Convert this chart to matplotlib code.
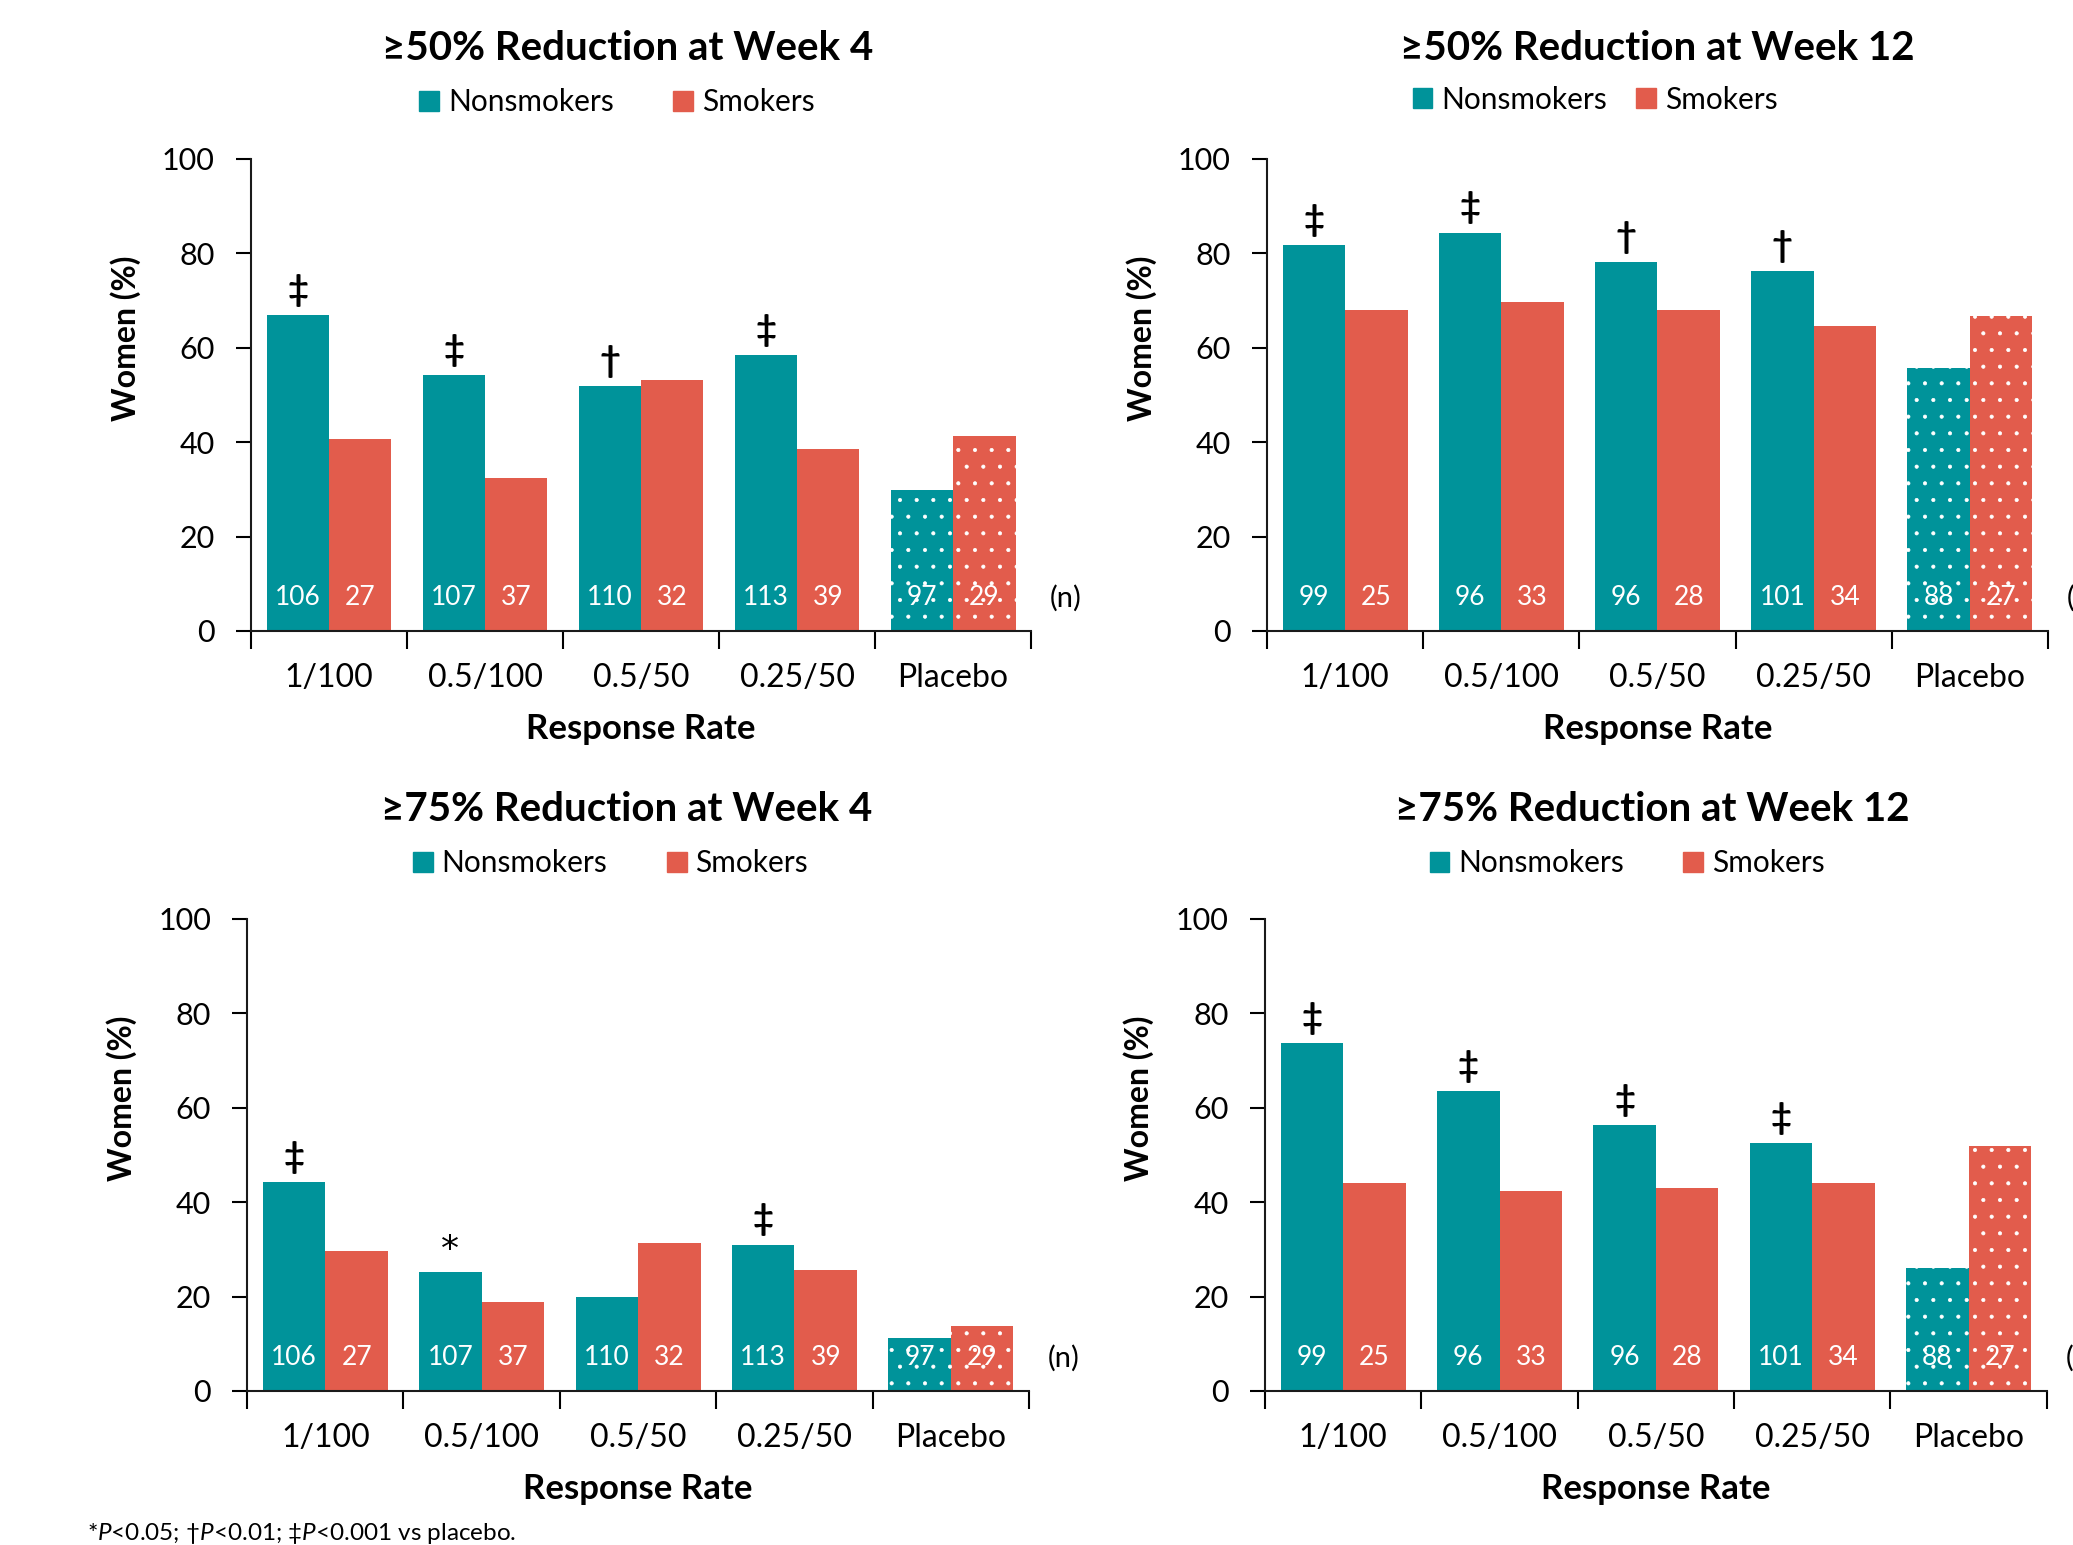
import matplotlib
matplotlib.use('Agg')
import matplotlib.pyplot as plt
from matplotlib.patches import Patch

plt.rcParams['font.family'] = ['Lato', 'DejaVu Sans']
plt.rcParams['mathtext.fontset'] = 'custom'
plt.rcParams['mathtext.rm'] = 'Lato'
plt.rcParams['mathtext.it'] = 'Lato:italic'
plt.rcParams['hatch.linewidth'] = 0.5

TEAL = '#00939a'
RED = '#e25c4c'

doses = ['1/100', '0.5/100', '0.5/50', '0.25/50', 'Placebo']

# percent of women responding, per panel
nonsmk_50_w4 = [67.0, 54.2, 51.8, 58.4, 29.9]
smk_50_w4 = [40.7, 32.4, 53.1, 38.5, 41.4]
nonsmk_50_w12 = [81.8, 84.4, 78.1, 76.2, 55.7]
smk_50_w12 = [68.0, 69.7, 67.9, 64.7, 66.7]
nonsmk_75_w4 = [44.3, 25.2, 20.0, 31.0, 11.3]
smk_75_w4 = [29.6, 18.9, 31.3, 25.6, 13.8]
nonsmk_75_w12 = [73.7, 63.5, 56.3, 52.5, 26.1]
smk_75_w12 = [44.0, 42.4, 42.9, 44.1, 51.9]

# group sizes
n_nonsmk_w4 = [106, 107, 110, 113, 97]
n_smk_w4 = [27, 37, 32, 39, 29]
n_nonsmk_w12 = [99, 96, 96, 101, 88]
n_smk_w12 = [25, 33, 28, 34, 27]

# significance vs placebo (nonsmokers)
sig_50_w4 = ['‡', '‡', '†', '‡', '']
sig_50_w12 = ['‡', '‡', '†', '†', '']
sig_75_w4 = ['‡', '*', '', '‡', '']
sig_75_w12 = ['‡', '‡', '‡', '‡', '']

# title, series, n, markers, axes rect, title pos, legend pos, legend column gap
panels = [
    ('≥50% Reduction at Week 4', nonsmk_50_w4, smk_50_w4, n_nonsmk_w4, n_smk_w4, sig_50_w4,
     [0.1211, 0.5916, 0.3763, 0.3055], (0.483, 1.235), (0.469, 1.12), 2.0),
    ('≥50% Reduction at Week 12', nonsmk_50_w12, smk_50_w12, n_nonsmk_w12, n_smk_w12, sig_50_w12,
     [0.6112, 0.5916, 0.3767, 0.3055], (0.50, 1.235), (0.42, 1.126), 1.0),
    ('≥75% Reduction at Week 4', nonsmk_75_w4, smk_75_w4, n_nonsmk_w4, n_smk_w4, sig_75_w4,
     [0.1192, 0.0997, 0.3772, 0.3055], (0.486, 1.232), (0.465, 1.118), 2.0),
    ('≥75% Reduction at Week 12', nonsmk_75_w12, smk_75_w12, n_nonsmk_w12, n_smk_w12, sig_75_w12,
     [0.6102, 0.0997, 0.3772, 0.3055], (0.495, 1.232), (0.463, 1.118), 2.0),
]

fig = plt.figure(figsize=(20.73, 15.45), dpi=100)

for title, nons, smk, n_nons, n_smk, sig, rect, tpos, lpos, colsp in panels:
    ax = fig.add_axes(rect)
    x = range(len(doses))
    for i in x:
        hatch = '.' if doses[i] == 'Placebo' else None
        ax.bar(i - 0.2, nons[i], width=0.4, color=TEAL, edgecolor='white',
               linewidth=0, hatch=hatch)
        ax.bar(i + 0.2, smk[i], width=0.4, color=RED, edgecolor='white',
               linewidth=0, hatch=hatch)
        ax.text(i - 0.2, 7.0, str(n_nons[i]), color='white', ha='center', va='center', fontsize=19)
        ax.text(i + 0.2, 7.0, str(n_smk[i]), color='white', ha='center', va='center', fontsize=19)
        if sig[i] == '*':
            ax.text(i - 0.2, nons[i] + 2.5, sig[i], ha='center', va='baseline', fontsize=26,
                    family='DejaVu Sans')
        elif sig[i]:
            ax.text(i - 0.2, nons[i] + 3, sig[i], ha='center', va='baseline', fontsize=26,
                    fontweight='bold')
    ax.text(4.62, 7.0, '(n)', ha='left', va='center', fontsize=21, clip_on=False)

    ax.set_xlim(-0.5, 4.5)
    ax.set_ylim(0, 100)
    ax.set_yticks(range(0, 101, 20))
    ax.set_xticks([i - 0.5 for i in range(6)])
    ax.set_xticklabels([])
    ax.set_xticks(list(x), minor=True)
    ax.set_xticklabels(doses, minor=True)
    ax.tick_params(axis='x', which='major', direction='out', length=13, width=1.5)
    ax.tick_params(axis='x', which='minor', length=0, pad=23, labelsize=23)
    ax.tick_params(axis='y', direction='out', length=11, width=1.5, pad=15, labelsize=22)
    for s in ['top', 'right']:
        ax.spines[s].set_visible(False)
    for s in ['left', 'bottom']:
        ax.spines[s].set_linewidth(1.5)
        ax.spines[s].set_color('#1a1a1a')

    ax.text(tpos[0], tpos[1], title, transform=ax.transAxes, ha='center', va='center',
            fontsize=29, fontweight='bold')
    ax.text(0.5, -0.207, 'Response Rate', transform=ax.transAxes, ha='center', va='center',
            fontsize=25, fontweight='bold')
    ax.text(-0.161, 0.62, 'Women (%)', transform=ax.transAxes, ha='center', va='center',
            rotation=90, fontsize=23, fontweight='bold')

    handles = [Patch(color=TEAL, label='Nonsmokers'), Patch(color=RED, label='Smokers')]
    ax.legend(handles=handles, loc='center', bbox_to_anchor=lpos, ncol=2, frameon=False,
              fontsize=21.5, handlelength=0.65, handleheight=0.65, handletextpad=0.3,
              columnspacing=colsp)

fig.text(0.042, 0.003, '*$\\it{P}$<0.05; †$\\it{P}$<0.01; ‡$\\it{P}$<0.001 vs placebo.',
         ha='left', va='baseline', fontsize=17.5)

fig.savefig('out.png', dpi=100)
